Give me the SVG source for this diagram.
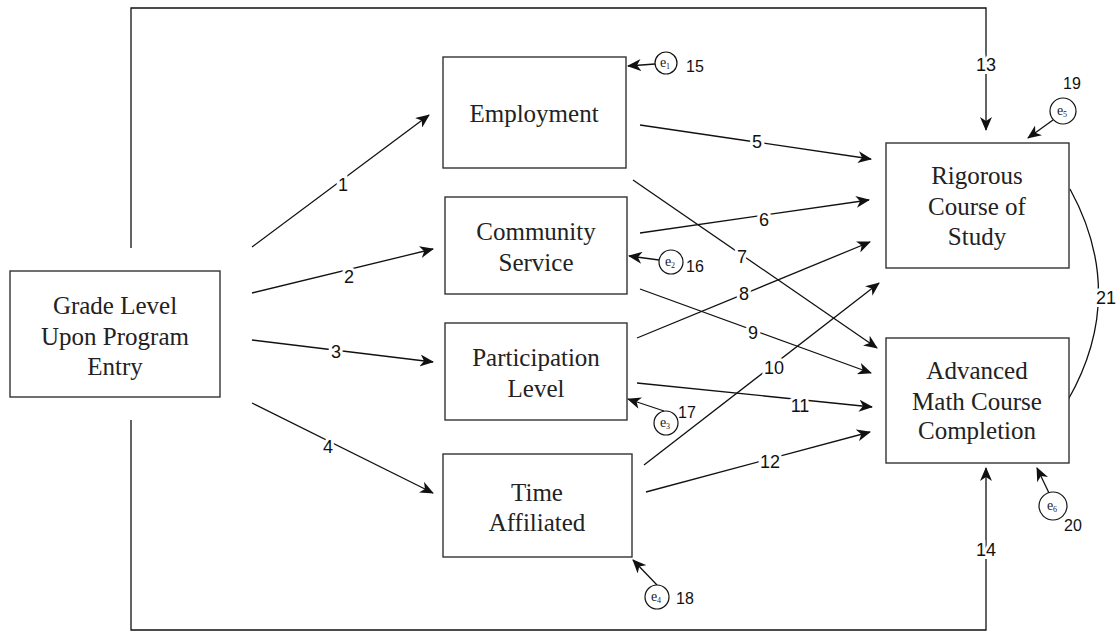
<svg xmlns="http://www.w3.org/2000/svg" width="1120" height="635" viewBox="0 0 1120 635">
  <defs>
    <marker id="arrow" markerUnits="userSpaceOnUse" markerWidth="14" markerHeight="12" refX="13" refY="6" orient="auto">
      <path d="M0,0 L14,6 L0,12 L4,6 z" fill="#111"/>
    </marker>
    <style>
      .box { fill: #fff; stroke: #333; stroke-width: 1.4; }
      .node { font-family: "Liberation Serif", "Times New Roman", serif; font-size: 25px; fill: #222; text-anchor: middle; }
      .edge { fill: none; stroke: #111; stroke-width: 1.3; }
      .arr { marker-end: url(#arrow); }
      .lbl { font-family: "Liberation Sans", Arial, sans-serif; font-size: 18px; fill: #111; text-anchor: middle; dominant-baseline: central; stroke: #fff; stroke-width: 6; paint-order: stroke; }
      .num { font-family: "Liberation Sans", Arial, sans-serif; font-size: 16px; fill: #111; dominant-baseline: central; }
      .err { fill: #fff; stroke: #111; stroke-width: 1.2; }
      .etext { font-family: "Liberation Serif", "Times New Roman", serif; font-size: 14px; fill: #222; text-anchor: middle; }
      .sub { font-size: 8px; }
    </style>
  </defs>

  <!-- connectors -->
  <g id="connectors">
    <!-- long paths from the grade-level box -->
    <polyline class="edge arr" points="131,248 131,8 986,8 986,130"/>
    <polyline class="edge arr" points="131,420 131,630 986,630 986,468"/>

    <!-- grade level to mediators -->
    <line class="edge arr" x1="252" y1="247" x2="429" y2="115"/>
    <line class="edge arr" x1="252" y1="293" x2="433" y2="249"/>
    <line class="edge arr" x1="252" y1="340" x2="433" y2="362"/>
    <line class="edge arr" x1="252" y1="403" x2="433" y2="493"/>

    <!-- mediators to outcomes -->
    <line class="edge arr" x1="640" y1="125" x2="871" y2="159"/>
    <line class="edge arr" x1="640" y1="233" x2="869" y2="200"/>
    <line class="edge arr" x1="633" y1="180" x2="877" y2="348"/>
    <line class="edge arr" x1="637" y1="338" x2="870" y2="242"/>
    <line class="edge arr" x1="640" y1="289" x2="871" y2="373"/>
    <line class="edge arr" x1="644" y1="465" x2="879" y2="283"/>
    <line class="edge arr" x1="637" y1="383" x2="872" y2="407"/>
    <line class="edge arr" x1="646" y1="492" x2="870" y2="432"/>

    <!-- correlation between outcomes -->
    <path class="edge" d="M1070,189 Q1128,295 1068,400"/>

    <!-- path labels -->
    <text class="lbl" x="343" y="185">1</text>
    <text class="lbl" x="349" y="277">2</text>
    <text class="lbl" x="336" y="352">3</text>
    <text class="lbl" x="328" y="447">4</text>
    <text class="lbl" x="757" y="142">5</text>
    <text class="lbl" x="764" y="220">6</text>
    <text class="lbl" x="742" y="257">7</text>
    <text class="lbl" x="744" y="294">8</text>
    <text class="lbl" x="753" y="333">9</text>
    <text class="lbl" x="774" y="368">10</text>
    <text class="lbl" x="800" y="406">11</text>
    <text class="lbl" x="770" y="462">12</text>
    <text class="lbl" x="986" y="65">13</text>
    <text class="lbl" x="986" y="550">14</text>
    <text class="lbl" x="1106" y="298">21</text>
  </g>

  <!-- observed variables -->
  <g id="grade-level">
    <rect class="box" x="10" y="271" width="210" height="126"/>
    <text class="node" x="115" y="314">Grade Level</text>
    <text class="node" x="115" y="345">Upon Program</text>
    <text class="node" x="115" y="375">Entry</text>
  </g>
  <g id="employment">
    <rect class="box" x="443" y="57" width="183" height="111"/>
    <text class="node" x="534" y="122">Employment</text>
  </g>
  <g id="community-service">
    <rect class="box" x="445" y="197" width="182" height="97"/>
    <text class="node" x="536" y="240">Community</text>
    <text class="node" x="536" y="271">Service</text>
  </g>
  <g id="participation-level">
    <rect class="box" x="445" y="323" width="182" height="97"/>
    <text class="node" x="536" y="366">Participation</text>
    <text class="node" x="536" y="397">Level</text>
  </g>
  <g id="time-affiliated">
    <rect class="box" x="443" y="454" width="189" height="103"/>
    <text class="node" x="537" y="501">Time</text>
    <text class="node" x="537" y="531">Affiliated</text>
  </g>
  <g id="rigorous-course">
    <rect class="box" x="886" y="143" width="183" height="125"/>
    <text class="node" x="977" y="184">Rigorous</text>
    <text class="node" x="977" y="215">Course of</text>
    <text class="node" x="977" y="245">Study</text>
  </g>
  <g id="advanced-math">
    <rect class="box" x="886" y="338" width="183" height="125"/>
    <text class="node" x="977" y="379">Advanced</text>
    <text class="node" x="977" y="410">Math Course</text>
    <text class="node" x="977" y="439">Completion</text>
  </g>

  <!-- error terms -->
  <g id="e1">
    <line class="edge arr" x1="655" y1="64" x2="628" y2="66"/>
    <circle class="err" cx="666" cy="63" r="11"/>
    <text class="etext" x="665" y="67">e<tspan class="sub" dy="2">1</tspan></text>
    <text class="num" x="686" y="66">15</text>
  </g>
  <g id="e2">
    <line class="edge arr" x1="659" y1="260" x2="629" y2="256"/>
    <circle class="err" cx="671" cy="262" r="12"/>
    <text class="etext" x="670" y="266">e<tspan class="sub" dy="2">2</tspan></text>
    <text class="num" x="686" y="266">16</text>
  </g>
  <g id="e3">
    <line class="edge arr" x1="664" y1="411" x2="628" y2="399"/>
    <circle class="err" cx="666" cy="423" r="12"/>
    <text class="etext" x="665" y="427">e<tspan class="sub" dy="2">3</tspan></text>
    <text class="num" x="678" y="412">17</text>
  </g>
  <g id="e4">
    <line class="edge arr" x1="657" y1="585" x2="633" y2="560"/>
    <circle class="err" cx="657" cy="597" r="12"/>
    <text class="etext" x="656" y="601">e<tspan class="sub" dy="2">4</tspan></text>
    <text class="num" x="676" y="598">18</text>
  </g>
  <g id="e5">
    <line class="edge arr" x1="1053" y1="120" x2="1028" y2="138"/>
    <circle class="err" cx="1063" cy="111" r="13"/>
    <text class="etext" x="1062" y="115">e<tspan class="sub" dy="2">5</tspan></text>
    <text class="num" x="1063" y="83">19</text>
  </g>
  <g id="e6">
    <line class="edge arr" x1="1049" y1="493" x2="1037" y2="468"/>
    <circle class="err" cx="1053" cy="506" r="14"/>
    <text class="etext" x="1052" y="510">e<tspan class="sub" dy="2">6</tspan></text>
    <text class="num" x="1064" y="525">20</text>
  </g>
</svg>
